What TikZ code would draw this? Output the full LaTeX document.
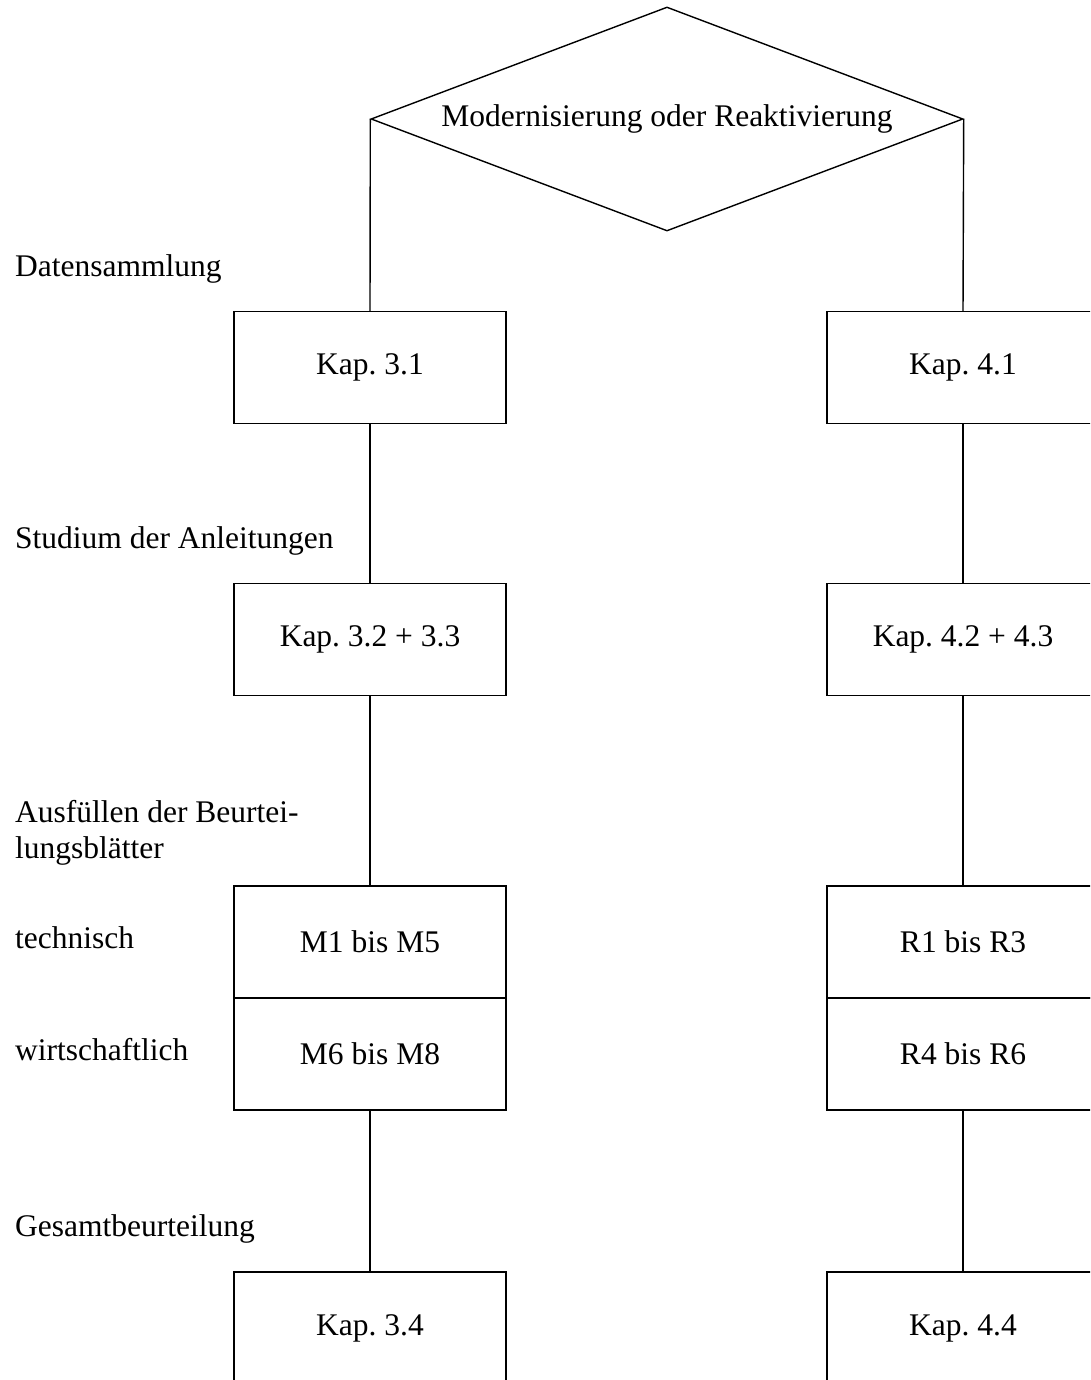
\documentclass[tikz,border=0pt]{standalone}
\usepackage{fontspec}
\setmainfont{Liberation Serif}
\frenchspacing
\usetikzlibrary{shapes.geometric}
\begin{document}
\begin{tikzpicture}[x=1pt,y=-1pt,
  every node/.style={font=\fontsize{31.5}{36}\selectfont},
  stepbox/.style={draw,line width=1.4pt,minimum width=272pt,minimum height=112pt,inner sep=0pt},
  decision/.style={draw,line width=1.4pt,diamond,aspect=2.643,minimum width=592pt,minimum height=224pt,inner sep=0pt},
  label/.style={anchor=base west,inner sep=0pt,align=left},
  link/.style={line width=1.4pt}]
\useasboundingbox (0,0) rectangle (1090,1380);
\clip (0,0) rectangle (1090,1380);
\fill[white] (0,0) rectangle (1090,1380);

\node[decision] (dia) at (667,119) {Modernisierung oder Reaktivierung};

\node[stepbox] (k31) at (370,367.5) {Kap. 3.1};
\node[stepbox] (k32) at (370,639.5) {Kap. 3.2 + 3.3};
\node[stepbox] (m15) at (370,942) {M1 bis M5};
\node[stepbox] (m68) at (370,1054) {M6 bis M8};
\node[stepbox] (k34) at (370,1328) {Kap. 3.4};

\node[stepbox] (k41) at (963,367.5) {Kap. 4.1};
\node[stepbox] (k42) at (963,639.5) {Kap. 4.2 + 4.3};
\node[stepbox] (r13) at (963,942) {R1 bis R3};
\node[stepbox] (r46) at (963,1054) {R4 bis R6};
\node[stepbox] (k44) at (963,1328) {Kap. 4.4};

\draw[link] (dia.west) -- (k31.north);
\draw[link] (k31.south) -- (k32.north);
\draw[link] (k32.south) -- (m15.north);
\draw[link] (m68.south) -- (k34.north);
\draw[link] (dia.east) -- (k41.north);
\draw[link] (k41.south) -- (k42.north);
\draw[link] (k42.south) -- (r13.north);
\draw[link] (r46.south) -- (k44.north);

\node[label] (l1) at (15,276) {Datensammlung};
\node[label] (l2) at (15,548) {Studium der Anleitungen};
\node[label] (l3) at (15,858) {Ausfüllen der Beurtei-\\lungsblätter};
\node[label] (l4) at (15,948) {technisch};
\node[label] (l5) at (15,1060) {wirtschaftlich};
\node[label] (l6) at (15,1236) {Gesamtbeurteilung};
\end{tikzpicture}
\end{document}
